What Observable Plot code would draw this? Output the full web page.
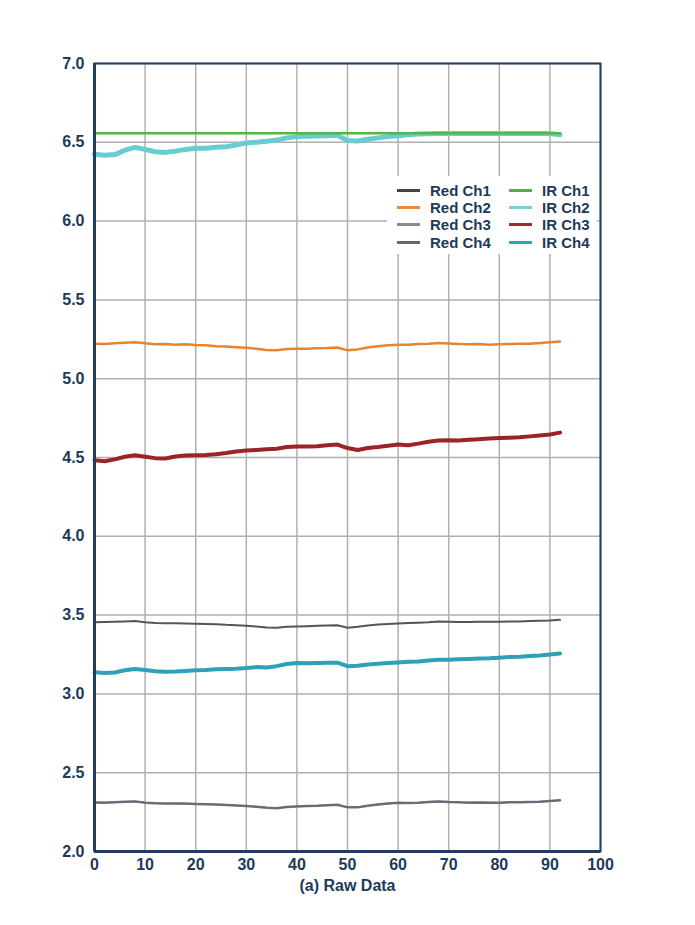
<!DOCTYPE html>
<html><head><meta charset="utf-8">
<script src="https://cdn.jsdelivr.net/npm/d3@7"></script>
<script src="https://cdn.jsdelivr.net/npm/@observablehq/plot@0.6"></script>
<style>
body{margin:0;background:#fff;font-family:"Liberation Sans",Arial,sans-serif;}
#wrap{position:relative;width:695px;}
#caption{text-align:center;font-weight:bold;font-size:16px;line-height:18px;color:#1d3a58;margin-top:2px;}
#legend{position:absolute;left:387px;top:176px;width:210px;height:78px;background:#fff;}
.li{position:absolute;height:17px;display:flex;align-items:center;font-weight:bold;font-size:15px;color:#1d3a58;white-space:nowrap;}
.sw{width:23px;height:3px;margin-right:10px;}
</style></head>
<body>
<div id="wrap"><div id="chart"></div><div id="legend"></div></div>
<div id="caption">(a) Raw Data</div>
<script>
const xs = [0,2,4,6,8,10,12,14,16,18,20,22,24,26,28,30,32,34,36,38,40,42,44,46,48,50,52,54,56,58,60,62,64,66,68,70,72,74,76,78,80,82,84,86,88,90,92];
const redCh1 = [3.455,3.456,3.458,3.460,3.462,3.455,3.450,3.449,3.448,3.447,3.445,3.444,3.442,3.438,3.436,3.432,3.428,3.422,3.420,3.426,3.428,3.430,3.432,3.434,3.436,3.420,3.426,3.434,3.440,3.444,3.447,3.450,3.452,3.455,3.460,3.458,3.456,3.456,3.458,3.458,3.458,3.460,3.460,3.462,3.464,3.466,3.470];
const redCh2 = [5.222,5.220,5.225,5.228,5.232,5.225,5.218,5.220,5.216,5.218,5.214,5.212,5.206,5.204,5.200,5.196,5.190,5.182,5.180,5.188,5.190,5.190,5.194,5.195,5.198,5.180,5.186,5.198,5.206,5.212,5.216,5.216,5.220,5.222,5.226,5.224,5.220,5.218,5.220,5.216,5.218,5.220,5.222,5.222,5.226,5.232,5.236];
const redCh3 = [2.311,2.310,2.312,2.315,2.318,2.310,2.306,2.305,2.304,2.304,2.302,2.300,2.298,2.295,2.292,2.289,2.284,2.278,2.275,2.282,2.286,2.288,2.290,2.294,2.297,2.280,2.280,2.290,2.298,2.304,2.309,2.308,2.310,2.314,2.318,2.314,2.312,2.310,2.311,2.310,2.310,2.312,2.312,2.314,2.316,2.320,2.325];
const redCh4 = [2.312,2.311,2.313,2.316,2.318,2.311,2.307,2.305,2.305,2.303,2.302,2.301,2.298,2.296,2.292,2.290,2.284,2.279,2.276,2.282,2.287,2.288,2.291,2.294,2.297,2.281,2.281,2.291,2.298,2.305,2.309,2.309,2.310,2.315,2.318,2.315,2.312,2.311,2.311,2.311,2.310,2.313,2.312,2.315,2.316,2.321,2.325];
const irCh1 = [6.558,6.558,6.558,6.558,6.558,6.558,6.558,6.558,6.558,6.558,6.558,6.558,6.558,6.558,6.558,6.558,6.558,6.558,6.558,6.558,6.558,6.558,6.558,6.558,6.558,6.558,6.558,6.558,6.558,6.558,6.558,6.558,6.558,6.558,6.558,6.558,6.558,6.558,6.558,6.558,6.558,6.558,6.558,6.558,6.558,6.558,6.558];
const irCh2 = [6.425,6.418,6.422,6.450,6.468,6.455,6.440,6.436,6.444,6.455,6.462,6.462,6.468,6.472,6.482,6.496,6.500,6.506,6.514,6.528,6.536,6.538,6.540,6.542,6.544,6.512,6.508,6.520,6.528,6.536,6.542,6.548,6.552,6.555,6.556,6.556,6.556,6.556,6.556,6.556,6.556,6.556,6.556,6.556,6.556,6.556,6.548];
const irCh3 = [4.482,4.476,4.488,4.505,4.514,4.505,4.496,4.494,4.506,4.512,4.514,4.516,4.520,4.528,4.538,4.544,4.548,4.552,4.556,4.566,4.570,4.570,4.572,4.578,4.582,4.560,4.548,4.560,4.566,4.574,4.582,4.578,4.588,4.600,4.608,4.610,4.608,4.612,4.616,4.620,4.624,4.626,4.628,4.634,4.640,4.646,4.658];
const irCh4 = [3.138,3.132,3.136,3.150,3.158,3.152,3.144,3.140,3.142,3.146,3.150,3.152,3.156,3.158,3.160,3.164,3.170,3.168,3.176,3.190,3.196,3.194,3.196,3.198,3.198,3.176,3.178,3.186,3.192,3.196,3.200,3.204,3.206,3.212,3.216,3.216,3.220,3.222,3.224,3.226,3.230,3.234,3.236,3.240,3.244,3.250,3.256];

const xTicks = [0,10,20,30,40,50,60,70,80,90,100];
const yTicks = [2.0,2.5,3.0,3.5,4.0,4.5,5.0,5.5,6.0,6.5,7.0];

const seriesNames = ["Red Ch1","Red Ch2","Red Ch3","Red Ch4","IR Ch1","IR Ch2","IR Ch3","IR Ch4"];
const legendColors = ["#444444","#e98a3c","#8a8a8a","#6a6a6a","#4caf50","#7fcbdc","#a02a2c","#2aa6b8"];
const lineColors  = {"Red Ch1":"#555555","Red Ch2":"#e8832e","Red Ch3":"#7a7480","Red Ch4":"#6e6672","IR Ch1":"#55b548","IR Ch2":"#68cdd0","IR Ch3":"#9a2428","IR Ch4":"#2ea0b8"};
const lineWidths  = {"Red Ch1":2,"Red Ch2":2.5,"Red Ch3":2.5,"Red Ch4":1.5,"IR Ch1":2.5,"IR Ch2":5,"IR Ch3":4,"IR Ch4":4};
const seriesVals = {"Red Ch1":redCh1,"Red Ch2":redCh2,"Red Ch3":redCh3,"Red Ch4":redCh4,"IR Ch1":irCh1,"IR Ch2":irCh2,"IR Ch3":irCh3,"IR Ch4":irCh4};
const drawOrder = ["IR Ch2","IR Ch1","Red Ch2","IR Ch3","Red Ch1","IR Ch4","Red Ch3","Red Ch4"];

const navy = "#1f3d5e";
const lineMarks = drawOrder.map(name => {
  const data = xs.map((x,i) => ({x, y: seriesVals[name][i]}));
  return Plot.line(data, {x:"x", y:"y", stroke: lineColors[name], strokeWidth: lineWidths[name], strokeLinejoin:"round"});
});

const chart = Plot.plot({
  width: 695, height: 875,
  marginTop: 63, marginBottom: 24, marginLeft: 94, marginRight: 95,
  style: {fontFamily: '"Liberation Sans", Arial, sans-serif', fontSize: "16px", fontWeight: "bold", color: "#1d3a58", background: "#fff"},
  x: {domain: [0,100], ticks: xTicks, label: null},
  y: {domain: [2,7], ticks: yTicks, tickFormat: d3.format(".1f"), label: null},
  marks: [
    Plot.gridX(xTicks, {stroke: "#b0b0b0", strokeOpacity: 1, strokeWidth: 1.5}),
    Plot.gridY(yTicks, {stroke: "#b0b0b0", strokeOpacity: 1, strokeWidth: 1.5}),
    ...lineMarks,
    Plot.frame({stroke: navy, strokeWidth: 2}),
    Plot.ruleX([0], {stroke: navy, strokeWidth: 3}),
    Plot.ruleY([2], {stroke: navy, strokeWidth: 3}),
    Plot.axisX(xTicks, {tickSize: 0, tickPadding: 7, fontSize: 16, fontWeight: "bold"}),
    Plot.axisY(yTicks, {tickSize: 0, tickPadding: 10, tickFormat: d3.format(".1f"), fontSize: 16, fontWeight: "bold"})
  ]
});
document.getElementById("chart").appendChild(chart);

const legend = document.getElementById("legend");
const rowTops = [5.5, 23, 40, 58];
seriesNames.forEach((name, i) => {
  const col = Math.floor(i / 4), row = i % 4;
  const item = document.createElement("div");
  item.className = "li";
  item.style.left = (col === 0 ? 10 : 122) + "px";
  item.style.top = rowTops[row] + "px";
  const sw = document.createElement("span");
  sw.className = "sw";
  sw.style.background = legendColors[i];
  item.appendChild(sw);
  item.appendChild(document.createTextNode(name));
  legend.appendChild(item);
});
</script>
</body></html>
